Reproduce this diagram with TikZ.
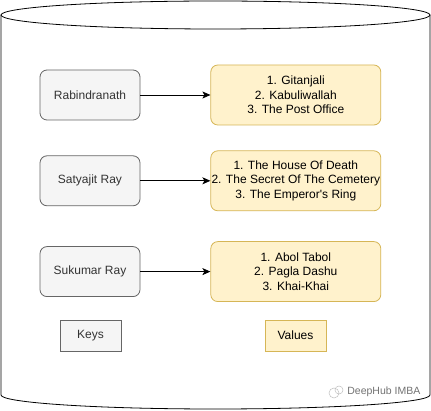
\documentclass[tikz,border=0pt]{standalone}
\usepackage{fontspec}
\setmainfont{Liberation Sans}
\usetikzlibrary{shapes,arrows,arrows.meta,positioning,calc}
\definecolor{keyfill}{HTML}{F5F5F5}
\definecolor{keydraw}{HTML}{666666}
\definecolor{keytext}{HTML}{333333}
\definecolor{valfill}{HTML}{FFF2CC}
\definecolor{valdraw}{HTML}{D6B656}

\begin{document}
\begin{tikzpicture}[
    x=1pt, y=-1pt,
    node distance=35pt,
    line width=0.8pt,
    >={Stealth[length=8pt, width=7pt, inset=2pt]},
    box/.style={rectangle, draw, rounded corners=7pt, font=\fontsize{12}{14.4}\selectfont, align=center, inner sep=0pt},
    keybox/.style={box, fill=keyfill, draw=keydraw, text=keytext, minimum width=100pt, minimum height=50pt},
    valbox/.style={box, fill=valfill, draw=valdraw, text=black, minimum width=170pt, minimum height=60pt},
    legend/.style={box, rounded corners=0pt, minimum width=61pt, minimum height=31pt}
]
    \useasboundingbox (0,0) rectangle (431,411);

    % Cylinder
    \draw[fill=white] (1,15) -- (1,395) arc[start angle=180, end angle=0, x radius=214.5, y radius=14] -- (430,15);
    \draw[fill=white] (215.5,15) ellipse [x radius=214.5, y radius=14];

    % Keys
    \node[keybox] (rabindranath) at (90,95) {Rabindranath};
    \node[keybox, below=35pt of rabindranath] (satyajit) {Satyajit Ray};
    \node[keybox, below=40pt of satyajit] (sukumar) {Sukumar Ray};

    % Values
    \node[valbox, right=70pt of rabindranath] (rab_vals) {1. Gitanjali\\2. Kabuliwallah\\3. The Post Office};
    \node[valbox, right=70pt of satyajit] (sat_vals) {1. The House Of Death\\2. The Secret Of The Cemetery\\3. The Emperor\textquotesingle s Ring};
    \node[valbox, right=70pt of sukumar] (suk_vals) {1. Abol Tabol\\2. Pagla Dashu\\3. Khai-Khai};

    % Edges
    \draw[->] (rabindranath) -- (rab_vals);
    \draw[->] (satyajit) -- (sat_vals);
    \draw[->] (sukumar) -- (suk_vals);

    % Legend
    \node[legend, fill=keyfill, draw=keydraw, text=keytext] (keys) at (90.5,335.5) {Keys};
    \node[legend, fill=valfill, draw=valdraw, text=black] (values) at (295.5,335.5) {Values};

    % Watermark
    \node[font=\fontsize{10.5}{12}\selectfont, text=black!55, anchor=west, inner sep=0pt] (mark) at (347,392) {DeepHub IMBA};
    \draw[black!25, line width=0.5pt] ([xshift=-13pt,yshift=-1pt]mark.west) circle [radius=5pt];
    \draw[black!25, line width=0.5pt] ([xshift=-8pt,yshift=2pt]mark.west) circle [radius=4pt];
\end{tikzpicture}
\end{document}
